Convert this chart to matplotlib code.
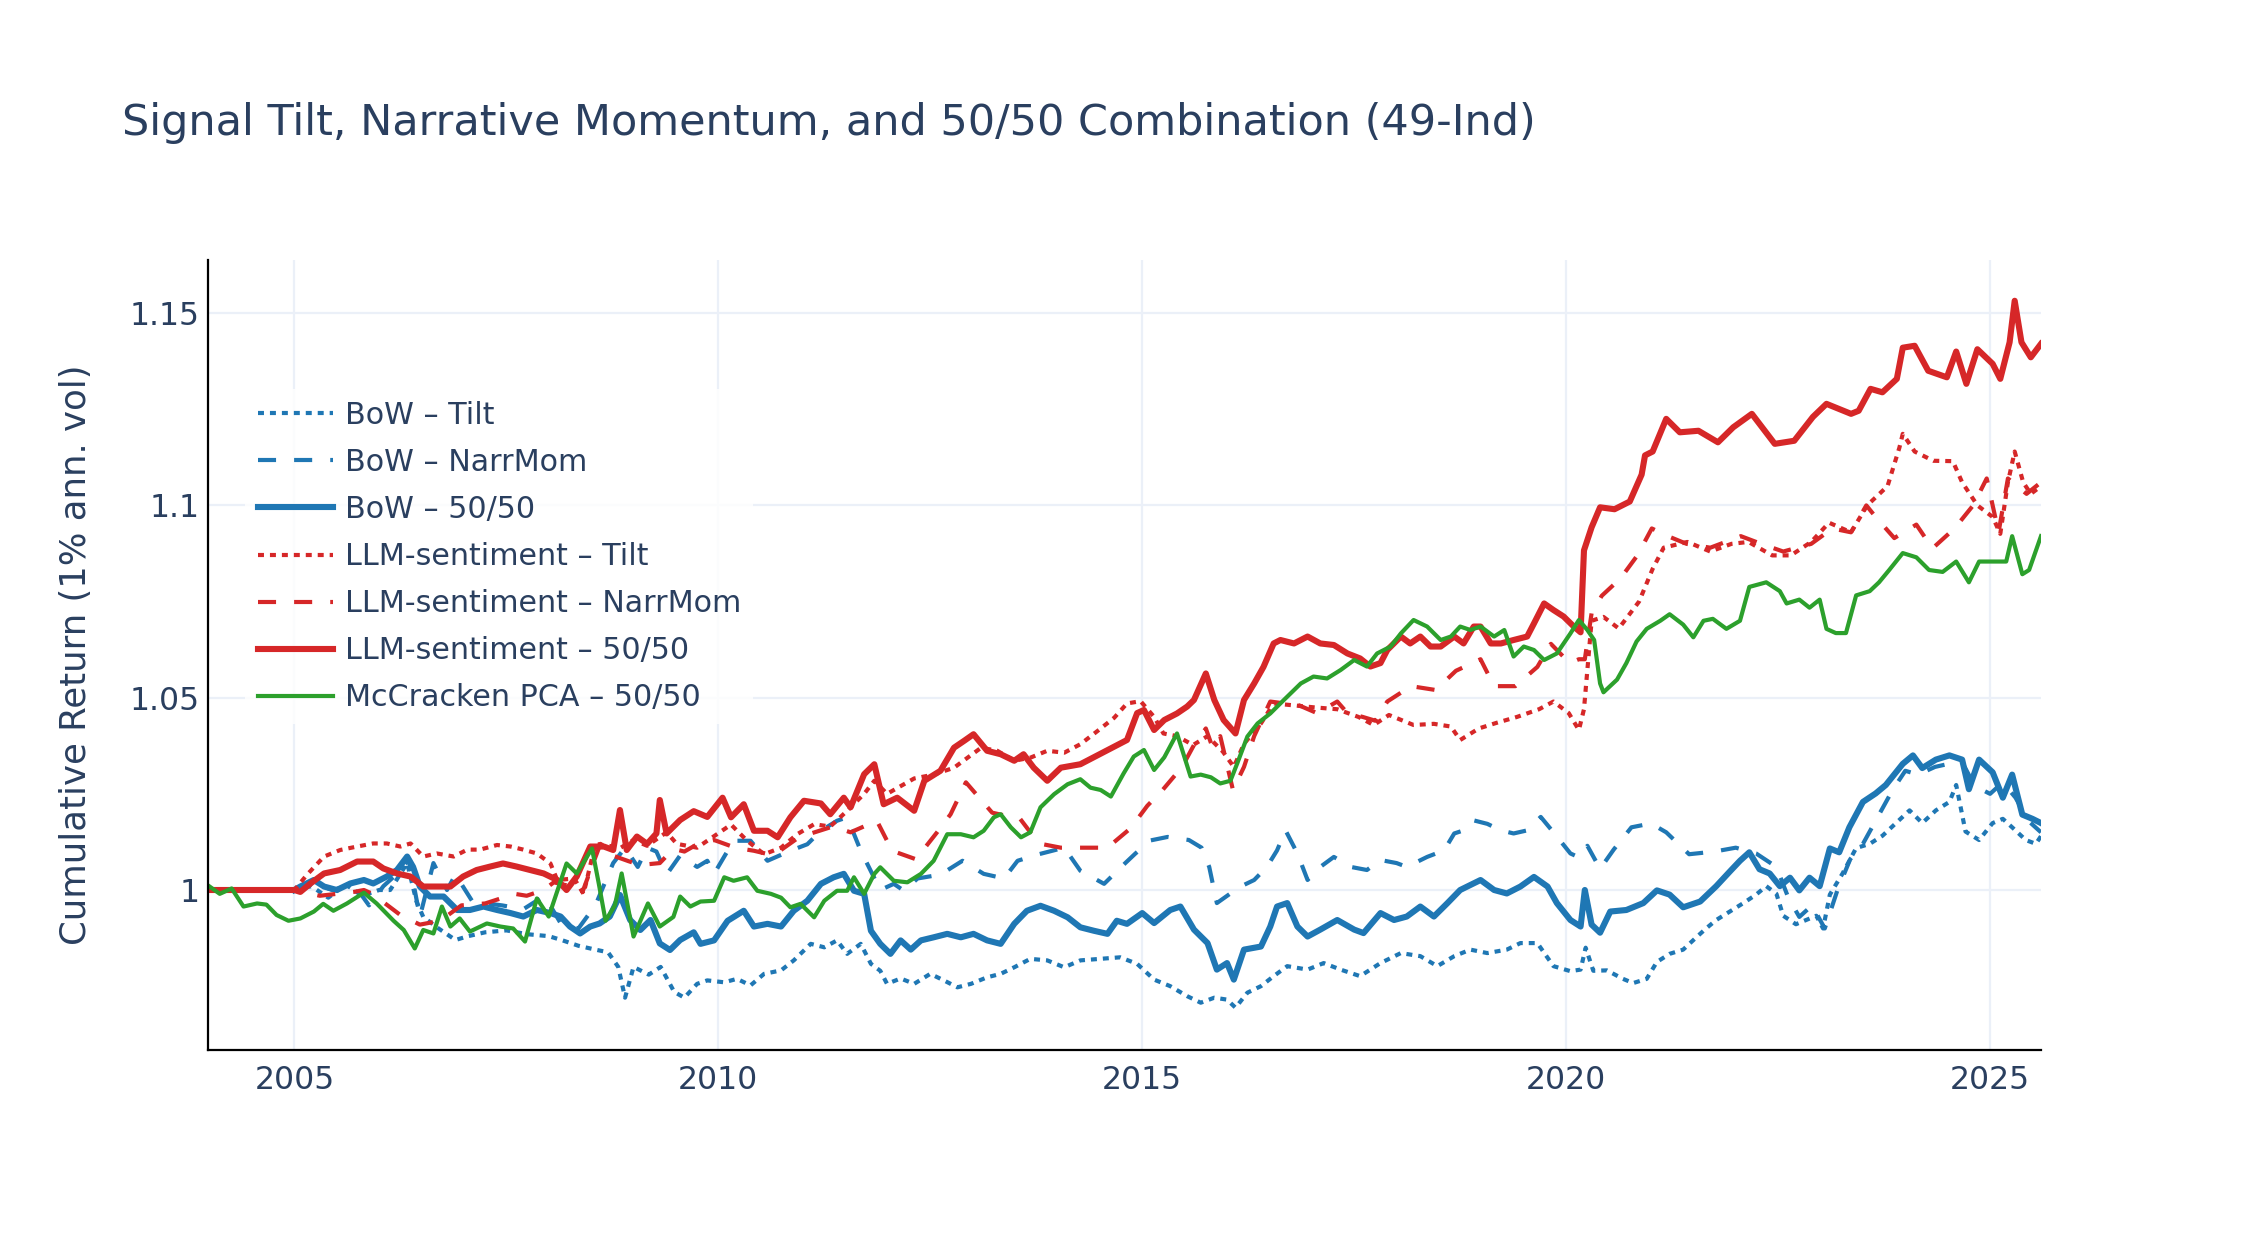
import numpy as np
import matplotlib.pyplot as plt

plt.rcParams['font.family'] = ['DejaVu Sans']
plt.rcParams['lines.scale_dashes'] = False

# ---- data (decimal years, cumulative return) ----
bow_tilt_x = [2005.00, 2005.20, 2005.40, 2005.60, 2005.80, 2006.00, 2006.13, 2006.33, 2006.44, 2006.52,
              2006.70, 2006.90, 2007.05, 2007.25, 2007.50, 2007.75, 2008.00, 2008.15, 2008.35, 2008.55,
              2008.70, 2008.82, 2008.90, 2009.00, 2009.18, 2009.32, 2009.48, 2009.60, 2009.75, 2009.87,
              2010.07, 2010.22, 2010.38, 2010.54, 2010.74, 2010.89, 2011.09, 2011.25, 2011.40, 2011.52,
              2011.68, 2011.80, 2011.91, 2011.99, 2012.15, 2012.31, 2012.50, 2012.66, 2012.82, 2012.98,
              2013.17, 2013.33, 2013.49, 2013.68, 2013.88, 2014.08, 2014.27, 2014.51, 2014.74, 2014.94,
              2015.14, 2015.33, 2015.53, 2015.69, 2015.85, 2016.00, 2016.10, 2016.24, 2016.40, 2016.55,
              2016.71, 2016.95, 2017.14, 2017.34, 2017.57, 2017.81, 2018.05, 2018.28, 2018.48, 2018.68,
              2018.87, 2019.07, 2019.30, 2019.46, 2019.66, 2019.85, 2020.05, 2020.17, 2020.23, 2020.32,
              2020.48, 2020.67, 2020.79, 2020.95, 2021.07, 2021.22, 2021.38, 2021.54, 2021.65, 2021.77,
              2021.93, 2022.09, 2022.24, 2022.36, 2022.48, 2022.56, 2022.71, 2022.83, 2022.95, 2023.03,
              2023.11, 2023.26, 2023.42, 2023.58, 2023.73, 2023.89, 2024.05, 2024.20, 2024.36, 2024.52,
              2024.60, 2024.71, 2024.87, 2025.03, 2025.15, 2025.26, 2025.42, 2025.54, 2025.60]
bow_tilt_y = [1.0000, 1.0010, 0.9980, 1.0015, 0.9985, 1.0000, 1.0000, 1.0070, 0.9970, 0.9930,
              0.9900, 0.9870, 0.9880, 0.9890, 0.9895, 0.9885, 0.9880, 0.9870, 0.9855, 0.9845,
              0.9838, 0.9800, 0.9720, 0.9800, 0.9780, 0.9800, 0.9735, 0.9720, 0.9756, 0.9765,
              0.9760, 0.9769, 0.9752, 0.9782, 0.9791, 0.9817, 0.9860, 0.9851, 0.9869, 0.9834,
              0.9860, 0.9808, 0.9790, 0.9756, 0.9770, 0.9756, 0.9782, 0.9765, 0.9747, 0.9756,
              0.9773, 0.9782, 0.9799, 0.9821, 0.9817, 0.9799, 0.9817, 0.9821, 0.9825, 0.9808,
              0.9767, 0.9750, 0.9724, 0.9707, 0.9720, 0.9715, 0.9694, 0.9733, 0.9750, 0.9776,
              0.9802, 0.9793, 0.9810, 0.9793, 0.9776, 0.9810, 0.9836, 0.9828, 0.9802, 0.9828,
              0.9845, 0.9836, 0.9845, 0.9862, 0.9862, 0.9802, 0.9789, 0.9793, 0.9850, 0.9790,
              0.9791, 0.9769, 0.9758, 0.9769, 0.9813, 0.9834, 0.9845, 0.9878, 0.9900, 0.9922,
              0.9944, 0.9966, 0.9988, 1.0010, 0.9990, 0.9933, 0.9911, 0.9922, 0.9933, 0.9900,
              0.9988, 1.0043, 1.0109, 1.0120, 1.0141, 1.0174, 1.0207, 1.0174, 1.0207, 1.0229,
              1.0273, 1.0152, 1.0130, 1.0174, 1.0185, 1.0163, 1.0130, 1.0120, 1.0140]

bow_mom_x = [2005.00, 2005.20, 2005.45, 2005.70, 2005.88, 2006.05, 2006.25, 2006.35, 2006.48, 2006.64,
             2006.80, 2006.90, 2007.10, 2007.45, 2007.70, 2007.95, 2008.15, 2008.35, 2008.55, 2008.76,
             2008.90, 2009.05, 2009.16, 2009.27, 2009.39, 2009.55, 2009.75, 2009.87, 2009.95, 2010.18,
             2010.38, 2010.58, 2010.85, 2011.05, 2011.21, 2011.40, 2011.52, 2011.68, 2011.91, 2012.07,
             2012.19, 2012.35, 2012.62, 2012.88, 2013.13, 2013.37, 2013.53, 2013.78, 2014.08, 2014.27,
             2014.55, 2014.80, 2014.92, 2015.10, 2015.30, 2015.55, 2015.70, 2015.79, 2015.88, 2016.04,
             2016.16, 2016.32, 2016.47, 2016.59, 2016.69, 2016.83, 2016.95, 2017.10, 2017.26, 2017.46,
             2017.65, 2017.81, 2018.00, 2018.12, 2018.36, 2018.56, 2018.68, 2018.79, 2018.91, 2019.07,
             2019.23, 2019.38, 2019.54, 2019.70, 2019.85, 2020.05, 2020.15, 2020.25, 2020.40, 2020.56,
             2020.77, 2021.00, 2021.18, 2021.45, 2021.75, 2022.00, 2022.24, 2022.48, 2022.62, 2022.75,
             2022.90, 2023.05, 2023.20, 2023.35, 2023.50, 2023.70, 2023.85, 2024.00, 2024.15, 2024.35,
             2024.55, 2024.70, 2024.82, 2025.00, 2025.15, 2025.30, 2025.45, 2025.60]
bow_mom_y = [1.0000, 1.0020, 1.0000, 1.0015, 0.9960, 1.0010, 1.0050, 1.0080, 0.9930, 1.0070,
             1.0000, 1.0040, 0.9970, 0.9960, 0.9950, 0.9985, 0.9910, 0.9900, 0.9960, 1.0070,
             1.0110, 1.0060, 1.0110, 1.0100, 1.0040, 1.0090, 1.0060, 1.0076, 1.0042, 1.0128,
             1.0128, 1.0076, 1.0102, 1.0119, 1.0154, 1.0180, 1.0189, 1.0102, 1.0000, 1.0016,
             0.9998, 1.0030, 1.0040, 1.0076, 1.0042, 1.0030, 1.0076, 1.0093, 1.0110, 1.0050,
             1.0016, 1.0070, 1.0095, 1.0129, 1.0138, 1.0130, 1.0110, 1.0060, 0.9966, 0.9991,
             1.0009, 1.0026, 1.0060, 1.0103, 1.0155, 1.0095, 1.0026, 1.0060, 1.0086, 1.0060,
             1.0052, 1.0078, 1.0070, 1.0060, 1.0086, 1.0103, 1.0147, 1.0155, 1.0181, 1.0172,
             1.0155, 1.0147, 1.0155, 1.0190, 1.0150, 1.0095, 1.0085, 1.0115, 1.0055, 1.0105,
             1.0163, 1.0173, 1.0150, 1.0093, 1.0100, 1.0110, 1.0095, 1.0060, 0.9980, 0.9930,
             0.9960, 0.9900, 1.0000, 1.0080, 1.0120, 1.0200, 1.0260, 1.0310, 1.0300, 1.0320,
             1.0330, 1.0320, 1.0270, 1.0250, 1.0280, 1.0240, 1.0180, 1.0150]

bow_mix_x = [2005.00, 2005.07, 2005.23, 2005.35, 2005.50, 2005.66, 2005.82, 2005.93, 2006.09, 2006.21,
             2006.33, 2006.40, 2006.48, 2006.60, 2006.76, 2006.92, 2007.07, 2007.23, 2007.39, 2007.55,
             2007.70, 2007.86, 2008.02, 2008.14, 2008.25, 2008.37, 2008.49, 2008.60, 2008.72, 2008.84,
             2008.96, 2009.08, 2009.20, 2009.31, 2009.43, 2009.55, 2009.71, 2009.79, 2009.95, 2010.11,
             2010.30, 2010.42, 2010.58, 2010.74, 2010.89, 2011.05, 2011.21, 2011.36, 2011.48, 2011.60,
             2011.72, 2011.80, 2011.91, 2012.03, 2012.15, 2012.27, 2012.39, 2012.54, 2012.70, 2012.86,
             2013.01, 2013.17, 2013.33, 2013.49, 2013.64, 2013.80, 2013.96, 2014.12, 2014.27, 2014.43,
             2014.59, 2014.70, 2014.82, 2015.00, 2015.14, 2015.33, 2015.45, 2015.61, 2015.77, 2015.88,
             2016.00, 2016.08, 2016.20, 2016.40, 2016.51, 2016.59, 2016.71, 2016.83, 2016.95, 2017.10,
             2017.30, 2017.50, 2017.61, 2017.81, 2017.97, 2018.12, 2018.28, 2018.44, 2018.60, 2018.75,
             2018.99, 2019.15, 2019.30, 2019.46, 2019.62, 2019.78, 2019.89, 2020.05, 2020.17, 2020.22,
             2020.30, 2020.40, 2020.52, 2020.71, 2020.91, 2021.07, 2021.22, 2021.38, 2021.58, 2021.77,
             2021.93, 2022.05, 2022.16, 2022.28, 2022.40, 2022.52, 2022.64, 2022.75, 2022.87, 2022.99,
             2023.11, 2023.22, 2023.34, 2023.50, 2023.65, 2023.77, 2023.85, 2023.97, 2024.09, 2024.20,
             2024.36, 2024.52, 2024.67, 2024.75, 2024.87, 2025.03, 2025.15, 2025.26, 2025.38, 2025.50,
             2025.60]
bow_mix_y = [1.0000, 1.0009, 1.0026, 1.0009, 1.0000, 1.0017, 1.0026, 1.0017, 1.0035, 1.0052,
             1.0087, 1.0060, 1.0009, 0.9983, 0.9983, 0.9948, 0.9948, 0.9957, 0.9948, 0.9940,
             0.9931, 0.9948, 0.9940, 0.9931, 0.9905, 0.9887, 0.9905, 0.9913, 0.9931, 0.9987,
             0.9922, 0.9896, 0.9922, 0.9861, 0.9844, 0.9870, 0.9890, 0.9860, 0.9869, 0.9920,
             0.9946, 0.9905, 0.9912, 0.9905, 0.9946, 0.9972, 1.0016, 1.0033, 1.0042, 0.9998,
             0.9990, 0.9894, 0.9860, 0.9834, 0.9869, 0.9845, 0.9869, 0.9877, 0.9886, 0.9877,
             0.9886, 0.9869, 0.9860, 0.9912, 0.9946, 0.9959, 0.9946, 0.9929, 0.9903, 0.9894,
             0.9886, 0.9920, 0.9912, 0.9940, 0.9914, 0.9948, 0.9957, 0.9897, 0.9862, 0.9793,
             0.9810, 0.9767, 0.9845, 0.9853, 0.9905, 0.9957, 0.9966, 0.9905, 0.9879, 0.9897,
             0.9922, 0.9897, 0.9888, 0.9940, 0.9922, 0.9931, 0.9957, 0.9931, 0.9966, 1.0000,
             1.0026, 1.0000, 0.9991, 1.0009, 1.0034, 1.0009, 0.9966, 0.9922, 0.9905, 1.0000,
             0.9910, 0.9889, 0.9944, 0.9948, 0.9966, 0.9999, 0.9988, 0.9955, 0.9970, 1.0010,
             1.0048, 1.0076, 1.0098, 1.0054, 1.0043, 1.0010, 1.0032, 0.9999, 1.0032, 1.0010,
             1.0108, 1.0098, 1.0163, 1.0229, 1.0251, 1.0273, 1.0295, 1.0328, 1.0350, 1.0317,
             1.0339, 1.0350, 1.0339, 1.0262, 1.0339, 1.0306, 1.0240, 1.0300, 1.0196, 1.0185,
             1.0174]

llm_tilt_x = [2004.00, 2005.00, 2005.15, 2005.35, 2005.54, 2005.74, 2005.93, 2006.09, 2006.25, 2006.37,
              2006.52, 2006.68, 2006.88, 2007.04, 2007.19, 2007.39, 2007.55, 2007.70, 2007.86, 2008.02,
              2008.10, 2008.30, 2008.41, 2008.55, 2008.70, 2008.85, 2009.00, 2009.16, 2009.39, 2009.51,
              2009.75, 2009.95, 2010.15, 2010.34, 2010.54, 2010.74, 2010.93, 2011.13, 2011.32, 2011.52,
              2011.72, 2011.84, 2011.99, 2012.31, 2012.54, 2012.78, 2012.94, 2013.10, 2013.29, 2013.49,
              2013.68, 2013.88, 2014.08, 2014.27, 2014.47, 2014.67, 2014.82, 2014.98, 2015.14, 2015.25,
              2015.41, 2015.60, 2015.77, 2015.95, 2016.08, 2016.20, 2016.40, 2016.55, 2016.79, 2017.02,
              2017.30, 2017.55, 2017.73, 2017.91, 2018.20, 2018.44, 2018.64, 2018.75, 2018.97, 2019.17,
              2019.42, 2019.68, 2019.85, 2020.03, 2020.15, 2020.21, 2020.30, 2020.44, 2020.62, 2020.86,
              2021.02, 2021.15, 2021.43, 2021.70, 2021.95, 2022.15, 2022.43, 2022.65, 2022.89, 2023.10,
              2023.36, 2023.55, 2023.79, 2023.93, 2023.97, 2024.11, 2024.33, 2024.56, 2024.67, 2024.85,
              2025.03, 2025.12, 2025.21, 2025.29, 2025.39, 2025.48, 2025.60]
llm_tilt_y = [1.0000, 1.0000, 1.0040, 1.0087, 1.0104, 1.0113, 1.0121, 1.0121, 1.0113, 1.0121,
              1.0087, 1.0095, 1.0087, 1.0105, 1.0105, 1.0117, 1.0113, 1.0105, 1.0095, 1.0069,
              1.0026, 1.0030, 0.9990, 1.0120, 1.0115, 1.0110, 1.0130, 1.0115, 1.0150, 1.0120,
              1.0110, 1.0140, 1.0170, 1.0128, 1.0093, 1.0110, 1.0145, 1.0171, 1.0165, 1.0206,
              1.0250, 1.0284, 1.0250, 1.0290, 1.0300, 1.0318, 1.0344, 1.0370, 1.0362, 1.0336,
              1.0344, 1.0362, 1.0357, 1.0379, 1.0413, 1.0448, 1.0485, 1.0491, 1.0450, 1.0407,
              1.0400, 1.0377, 1.0400, 1.0360, 1.0320, 1.0380, 1.0433, 1.0485, 1.0480, 1.0475,
              1.0470, 1.0450, 1.0429, 1.0455, 1.0429, 1.0432, 1.0425, 1.0390, 1.0420, 1.0434,
              1.0450, 1.0470, 1.0490, 1.0460, 1.0416, 1.0470, 1.0700, 1.0710, 1.0680, 1.0750,
              1.0835, 1.0890, 1.0905, 1.0880, 1.0900, 1.0905, 1.0870, 1.0870, 1.0905, 1.0955,
              1.0930, 1.1000, 1.1050, 1.1150, 1.1186, 1.1140, 1.1116, 1.1115, 1.1060, 1.1000,
              1.0970, 1.0926, 1.1060, 1.1140, 1.1060, 1.1030, 1.1050]

llm_mom_x = [2004.00, 2005.00, 2005.30, 2005.50, 2005.70, 2005.82, 2005.92, 2006.10, 2006.25, 2006.48,
             2006.72, 2006.97, 2007.25, 2007.60, 2007.74, 2007.94, 2008.06, 2008.25, 2008.39, 2008.49,
             2008.61, 2008.75, 2008.94, 2009.08, 2009.31, 2009.47, 2009.60, 2009.76, 2009.95, 2010.20,
             2010.42, 2010.65, 2010.95, 2011.35, 2011.56, 2011.87, 2012.05, 2012.33, 2012.58, 2012.74,
             2012.92, 2013.23, 2013.56, 2013.78, 2014.04, 2014.26, 2014.59, 2014.86, 2015.06, 2015.24,
             2015.47, 2015.61, 2015.75, 2015.83, 2015.92, 2016.07, 2016.20, 2016.32, 2016.51, 2016.85,
             2017.06, 2017.30, 2017.42, 2017.60, 2017.75, 2017.89, 2018.17, 2018.46, 2018.70, 2018.99,
             2019.15, 2019.40, 2019.66, 2019.82, 2020.04, 2020.15, 2020.22, 2020.30, 2020.42, 2020.64,
             2020.84, 2021.01, 2021.20, 2021.42, 2021.70, 2022.06, 2022.30, 2022.56, 2022.89, 2023.14,
             2023.36, 2023.54, 2023.65, 2023.87, 2024.13, 2024.32, 2024.58, 2024.80, 2024.96, 2025.10,
             2025.21, 2025.43, 2025.60]
llm_mom_y = [1.0000, 1.0000, 0.9985, 0.9990, 0.9995, 1.0000, 0.9990, 0.9960, 0.9935, 0.9910,
             0.9920, 0.9960, 0.9965, 0.9990, 0.9985, 1.0000, 1.0020, 1.0010, 0.9990, 1.0050,
             1.0120, 1.0090, 1.0075, 1.0065, 1.0070, 1.0107, 1.0100, 1.0120, 1.0130, 1.0110,
             1.0102, 1.0090, 1.0137, 1.0165, 1.0150, 1.0180, 1.0102, 1.0080, 1.0150, 1.0197,
             1.0280, 1.0201, 1.0185, 1.0121, 1.0110, 1.0110, 1.0110, 1.0160, 1.0219, 1.0260,
             1.0320, 1.0377, 1.0420, 1.0370, 1.0400, 1.0260, 1.0320, 1.0400, 1.0490, 1.0480,
             1.0460, 1.0490, 1.0460, 1.0450, 1.0440, 1.0490, 1.0530, 1.0520, 1.0570, 1.0600,
             1.0530, 1.0530, 1.0580, 1.0640, 1.0590, 1.0600, 1.0600, 1.0720, 1.0765, 1.0810,
             1.0870, 1.0940, 1.0920, 1.0900, 1.0890, 1.0920, 1.0900, 1.0880, 1.0900, 1.0940,
             1.0930, 1.1000, 1.0970, 1.0915, 1.0950, 1.0888, 1.0940, 1.1000, 1.1070, 1.0930,
             1.1070, 1.1030, 1.1060]

llm_mix_x = [2004.00, 2005.00, 2005.07, 2005.19, 2005.35, 2005.54, 2005.74, 2005.93, 2006.05, 2006.21,
             2006.37, 2006.52, 2006.68, 2006.84, 2006.99, 2007.15, 2007.31, 2007.46, 2007.62, 2007.78,
             2007.94, 2008.10, 2008.21, 2008.33, 2008.49, 2008.65, 2008.76, 2008.84, 2008.92, 2009.04,
             2009.16, 2009.27, 2009.31, 2009.39, 2009.55, 2009.71, 2009.87, 2010.05, 2010.15, 2010.30,
             2010.42, 2010.58, 2010.70, 2010.85, 2011.01, 2011.21, 2011.32, 2011.48, 2011.56, 2011.72,
             2011.84, 2011.95, 2012.11, 2012.31, 2012.43, 2012.62, 2012.78, 2012.90, 2013.01, 2013.17,
             2013.33, 2013.49, 2013.60, 2013.72, 2013.88, 2014.04, 2014.27, 2014.47, 2014.67, 2014.82,
             2014.94, 2015.02, 2015.14, 2015.26, 2015.41, 2015.53, 2015.61, 2015.75, 2015.85, 2015.96,
             2016.10, 2016.20, 2016.32, 2016.43, 2016.55, 2016.63, 2016.79, 2016.95, 2017.10, 2017.26,
             2017.42, 2017.57, 2017.69, 2017.81, 2017.89, 2018.05, 2018.16, 2018.28, 2018.40, 2018.52,
             2018.68, 2018.79, 2018.91, 2018.99, 2019.11, 2019.23, 2019.38, 2019.54, 2019.62, 2019.74,
             2019.85, 2019.97, 2020.09, 2020.17, 2020.21, 2020.30, 2020.40, 2020.57, 2020.75, 2020.89,
             2020.93, 2021.02, 2021.18, 2021.34, 2021.56, 2021.79, 2021.97, 2022.19, 2022.46, 2022.69,
             2022.91, 2023.07, 2023.36, 2023.45, 2023.59, 2023.73, 2023.90, 2023.97, 2024.11, 2024.27,
             2024.49, 2024.60, 2024.72, 2024.85, 2025.03, 2025.12, 2025.23, 2025.29, 2025.37, 2025.48,
             2025.60]
llm_mix_y = [1.0000, 1.0000, 0.9995, 1.0017, 1.0043, 1.0052, 1.0074, 1.0074, 1.0056, 1.0043,
             1.0035, 1.0009, 1.0009, 1.0009, 1.0035, 1.0052, 1.0061, 1.0069, 1.0061, 1.0052,
             1.0043, 1.0026, 1.0000, 1.0035, 1.0113, 1.0113, 1.0104, 1.0208, 1.0104, 1.0139,
             1.0120, 1.0147, 1.0234, 1.0147, 1.0182, 1.0205, 1.0190, 1.0240, 1.0189, 1.0223,
             1.0154, 1.0154, 1.0137, 1.0189, 1.0232, 1.0225, 1.0197, 1.0240, 1.0215, 1.0301,
             1.0327, 1.0223, 1.0240, 1.0206, 1.0284, 1.0310, 1.0370, 1.0388, 1.0405, 1.0362,
             1.0353, 1.0336, 1.0353, 1.0318, 1.0284, 1.0318, 1.0327, 1.0350, 1.0373, 1.0390,
             1.0460, 1.0468, 1.0416, 1.0442, 1.0459, 1.0477, 1.0494, 1.0563, 1.0494, 1.0442,
             1.0407, 1.0494, 1.0537, 1.0580, 1.0641, 1.0650, 1.0641, 1.0659, 1.0641, 1.0637,
             1.0615, 1.0602, 1.0581, 1.0590, 1.0624, 1.0659, 1.0641, 1.0659, 1.0633, 1.0633,
             1.0659, 1.0641, 1.0685, 1.0685, 1.0641, 1.0641, 1.0650, 1.0659, 1.0693, 1.0745,
             1.0728, 1.0711, 1.0685, 1.0670, 1.0883, 1.0943, 1.0995, 1.0990, 1.1010, 1.1080,
             1.1130, 1.1140, 1.1225, 1.1190, 1.1194, 1.1164, 1.1203, 1.1238, 1.1160, 1.1168,
             1.1230, 1.1264, 1.1238, 1.1246, 1.1303, 1.1294, 1.1329, 1.1410, 1.1415, 1.1350,
             1.1333, 1.1400, 1.1316, 1.1406, 1.1368, 1.1329, 1.1424, 1.1532, 1.1424, 1.1385,
             1.1420]

pca_mix_x = [2004.00, 2004.12, 2004.26, 2004.40, 2004.56, 2004.67, 2004.79, 2004.93, 2005.07, 2005.23,
             2005.34, 2005.46, 2005.62, 2005.82, 2005.97, 2006.17, 2006.29, 2006.42, 2006.52, 2006.64,
             2006.74, 2006.84, 2006.95, 2007.07, 2007.27, 2007.43, 2007.58, 2007.72, 2007.86, 2008.00,
             2008.21, 2008.33, 2008.51, 2008.59, 2008.67, 2008.78, 2008.86, 2009.00, 2009.17, 2009.31,
             2009.47, 2009.55, 2009.67, 2009.79, 2009.95, 2010.07, 2010.18, 2010.34, 2010.46, 2010.62,
             2010.74, 2010.85, 2010.97, 2011.13, 2011.25, 2011.40, 2011.52, 2011.60, 2011.72, 2011.84,
             2011.91, 2012.07, 2012.23, 2012.39, 2012.54, 2012.70, 2012.86, 2013.01, 2013.13, 2013.25,
             2013.33, 2013.45, 2013.57, 2013.68, 2013.80, 2013.96, 2014.12, 2014.27, 2014.39, 2014.51,
             2014.63, 2014.78, 2014.90, 2015.02, 2015.14, 2015.26, 2015.41, 2015.57, 2015.69, 2015.81,
             2015.92, 2016.04, 2016.12, 2016.24, 2016.36, 2016.51, 2016.67, 2016.87, 2017.02, 2017.18,
             2017.34, 2017.50, 2017.65, 2017.77, 2017.93, 2018.05, 2018.20, 2018.36, 2018.52, 2018.64,
             2018.75, 2018.87, 2018.99, 2019.15, 2019.27, 2019.38, 2019.50, 2019.62, 2019.74, 2019.89,
             2020.05, 2020.15, 2020.25, 2020.33, 2020.40, 2020.44, 2020.60, 2020.71, 2020.83, 2020.95,
             2021.11, 2021.22, 2021.38, 2021.50, 2021.62, 2021.73, 2021.89, 2022.05, 2022.16, 2022.36,
             2022.52, 2022.60, 2022.75, 2022.87, 2022.99, 2023.07, 2023.18, 2023.30, 2023.42, 2023.58,
             2023.69, 2023.81, 2023.97, 2024.13, 2024.28, 2024.44, 2024.60, 2024.75, 2024.87, 2025.03,
             2025.19, 2025.26, 2025.38, 2025.46, 2025.60]
pca_mix_y = [1.0009, 0.9990, 1.0004, 0.9957, 0.9965, 0.9962, 0.9935, 0.9920, 0.9926, 0.9944,
             0.9964, 0.9946, 0.9965, 0.9993, 0.9965, 0.9920, 0.9896, 0.9848, 0.9896, 0.9887,
             0.9957, 0.9905, 0.9926, 0.9892, 0.9913, 0.9905, 0.9900, 0.9866, 0.9978, 0.9931,
             1.0069, 1.0043, 1.0108, 1.0017, 0.9920, 0.9960, 1.0043, 0.9879, 0.9965, 0.9905,
             0.9930, 0.9983, 0.9957, 0.9970, 0.9972, 1.0033, 1.0024, 1.0033, 0.9998, 0.9990,
             0.9980, 0.9955, 0.9964, 0.9929, 0.9972, 0.9998, 0.9998, 1.0033, 0.9990, 1.0042,
             1.0059, 1.0024, 1.0020, 1.0042, 1.0076, 1.0145, 1.0145, 1.0137, 1.0154, 1.0189,
             1.0197, 1.0163, 1.0137, 1.0150, 1.0215, 1.0249, 1.0275, 1.0288, 1.0266, 1.0260,
             1.0243, 1.0303, 1.0347, 1.0364, 1.0312, 1.0345, 1.0407, 1.0295, 1.0300, 1.0293,
             1.0277, 1.0284, 1.0329, 1.0399, 1.0433, 1.0459, 1.0494, 1.0537, 1.0555, 1.0550,
             1.0572, 1.0598, 1.0581, 1.0615, 1.0633, 1.0667, 1.0702, 1.0685, 1.0650, 1.0659,
             1.0685, 1.0676, 1.0685, 1.0659, 1.0676, 1.0607, 1.0633, 1.0624, 1.0598, 1.0615,
             1.0667, 1.0702, 1.0676, 1.0650, 1.0537, 1.0514, 1.0547, 1.0590, 1.0646, 1.0679,
             1.0700, 1.0717, 1.0690, 1.0657, 1.0700, 1.0705, 1.0679, 1.0700, 1.0788, 1.0800,
             1.0777, 1.0745, 1.0755, 1.0734, 1.0755, 1.0679, 1.0668, 1.0668, 1.0766, 1.0777,
             1.0800, 1.0832, 1.0876, 1.0865, 1.0832, 1.0827, 1.0854, 1.0800, 1.0854, 1.0854,
             1.0854, 1.0920, 1.0821, 1.0832, 1.0920]

labels = ['BoW – Tilt', 'BoW – NarrMom', 'BoW – 50/50',
          'LLM-sentiment – Tilt', 'LLM-sentiment – NarrMom', 'LLM-sentiment – 50/50',
          'McCracken PCA – 50/50']
x_ticks = [2005, 2010, 2015, 2020, 2025]
y_ticks = [1.0, 1.05, 1.1, 1.15]
y_tick_labels = ['1', '1.05', '1.1', '1.15']

blue = '#1f77b4'
red = '#d62728'
green = '#2ca02c'
txt_color = '#2a3f5f'
grid_color = '#ebf0f8'

dot = (4.3, 4.3)
dash = (13, 13)
thin = 3.0
thick = 4.4

fig = plt.figure(figsize=(22.5, 12.5), dpi=100)
ax = fig.add_axes([0.0924, 0.16, 0.8147, 0.632])

series = [
    (bow_tilt_x, bow_tilt_y, blue, thin, dot),
    (bow_mom_x, bow_mom_y, blue, thin, dash),
    (bow_mix_x, bow_mix_y, blue, thick, None),
    (llm_tilt_x, llm_tilt_y, red, thin, dot),
    (llm_mom_x, llm_mom_y, red, thin, dash),
    (llm_mix_x, llm_mix_y, red, thick, None),
    (pca_mix_x, pca_mix_y, green, thin, None),
]
for (xs, ys, c, lw, ds), lab in zip(series, labels):
    line, = ax.plot(xs, ys, color=c, lw=lw, label=lab, solid_joinstyle='round',
                    dash_capstyle='butt')
    if ds is not None:
        line.set_dashes(ds)

ax.set_xlim(2003.98, 2025.6)
ax.set_ylim(0.9584, 1.1638)
ax.set_xticks(x_ticks)
ax.set_yticks(y_ticks)
ax.set_yticklabels(y_tick_labels)
ax.tick_params(axis='both', length=0, labelsize=22.7, labelcolor=txt_color)
ax.tick_params(axis='y', pad=6)
ax.tick_params(axis='x', pad=11)
ax.grid(True, color=grid_color, lw=1.6)
ax.set_axisbelow(True)
for s in ['top', 'right']:
    ax.spines[s].set_visible(False)
for s in ['left', 'bottom']:
    ax.spines[s].set_color('black')
    ax.spines[s].set_linewidth(1.6)

# legend sits inside the plot, top-left, on a mostly opaque white box
leg = ax.legend(loc='upper left', bbox_to_anchor=(0.0205, 0.837), borderaxespad=0,
                fontsize=21.7, frameon=True, fancybox=False, framealpha=0.85,
                handlelength=2.5, handletextpad=0.4, labelspacing=0.6, borderpad=0.4)
leg.get_frame().set_edgecolor('none')
for t in leg.get_texts():
    t.set_color(txt_color)

fig.text(122 / 2250, 1 - 123 / 1250, 'Signal Tilt, Narrative Momentum, and 50/50 Combination (49-Ind)',
         fontsize=31, color=txt_color, ha='left', va='center')
fig.text(76 / 2250, 1 - 655 / 1250, 'Cumulative Return (1% ann. vol)', rotation=90,
         fontsize=25.6, color=txt_color, ha='center', va='center')

fig.savefig('out.png', dpi=100, facecolor='white')
